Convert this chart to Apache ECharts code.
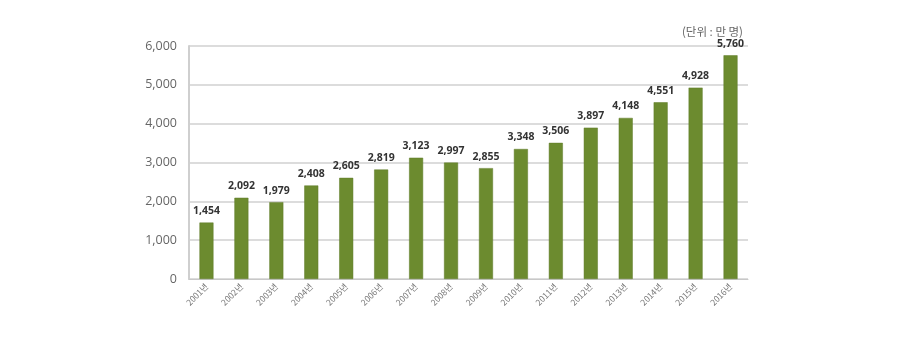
<!DOCTYPE html>
<html>
<head>
<meta charset="utf-8">
<script src="https://cdn.jsdelivr.net/npm/echarts@6/dist/echarts.min.js"></script>
<style>
  html, body { margin: 0; padding: 0; background: #fff; }
  #chart { width: 900px; height: 341px; }
</style>
</head>
<body>
<div id="chart"></div>
<script>
// Years shown on the category axis
const years = ['2001년', '2002년', '2003년', '2004년', '2005년', '2006년', '2007년', '2008년',
  '2009년', '2010년', '2011년', '2012년', '2013년', '2014년', '2015년', '2016년'];
// Values in units of 10,000 people
const values = [1454, 2092, 1979, 2408, 2605, 2819, 3123, 2997,
  2855, 3348, 3506, 3897, 4148, 4551, 4928, 5760];
const unitLabel = '(단위 : 만 명)';

const chart = echarts.init(document.getElementById('chart'));
chart.setOption({
  animation: false,
  backgroundColor: '#ffffff',
  title: {
    text: unitLabel,
    right: 152,
    top: 21,
    textStyle: { fontSize: 11.5, fontWeight: 'normal', color: '#666', fontFamily: 'Noto Sans CJK KR' }
  },
  grid: { left: 189, right: 152, top: 46, bottom: 62 },
  xAxis: {
    type: 'category',
    data: years,
    axisLine: { lineStyle: { color: '#c8c8c8', width: 1 } },
    axisTick: { show: false },
    axisLabel: {
      rotate: 45,
      fontSize: 8.5,
      color: '#777',
      margin: 6,
      interval: 0,
      fontFamily: 'Noto Sans CJK KR'
    }
  },
  yAxis: {
    type: 'value',
    min: 0,
    max: 6000,
    interval: 1000,
    axisLine: { show: true, lineStyle: { color: '#cfcfcf', width: 2 } },
    axisTick: { show: false },
    splitLine: { lineStyle: { color: '#dcdcdc', width: 2 } },
    axisLabel: {
      fontSize: 12.5,
      color: '#666',
      margin: 12,
      fontFamily: 'Open Sans',
      formatter: v => v.toLocaleString('en-US')
    }
  },
  series: [{
    type: 'bar',
    data: values,
    barWidth: 14,
    itemStyle: { color: '#6c8b2f', borderColor: '#5e7a28', borderWidth: 0.5 },
    label: {
      show: true,
      position: 'top',
      distance: 6,
      fontSize: 10.5,
      fontWeight: 'bold',
      color: '#333',
      fontFamily: 'Open Sans',
      formatter: p => p.value.toLocaleString('en-US')
    }
  }]
});
</script>
</body>
</html>
